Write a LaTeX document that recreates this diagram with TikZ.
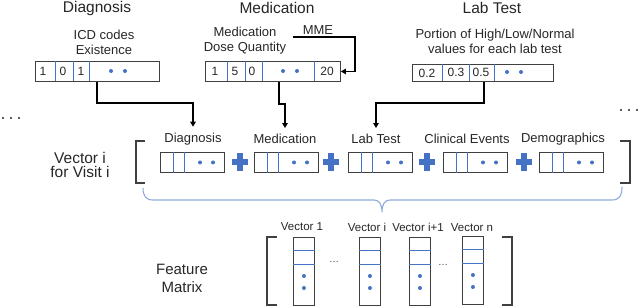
\documentclass[tikz,border=0pt]{standalone}
\usepackage{fontspec}
\setmainfont{Liberation Sans}
\usetikzlibrary{arrows.meta,calc}
\definecolor{oblue}{RGB}{68,114,196}
\definecolor{lblue}{RGB}{143,170,220}
\definecolor{ink}{RGB}{38,38,38}
\definecolor{boxc}{RGB}{64,64,64}
\newcommand\fsz[1]{\fontsize{#1}{#1}\selectfont}
\tikzset{
  x=1pt,y=-1pt,
  txt/.style={inner sep=0pt,text=ink,align=center},
  ttl/.style={txt,font=\fsz{15.5}},
  sub/.style={txt,font=\fontsize{13}{15}\selectfont},
  vlabel/.style={txt,font=\fsz{13}},
  digit/.style={txt,font=\fsz{12}},
  small/.style={txt,font=\fsz{11.5}},
  cellbox/.style={draw=boxc,line width=0.9pt,rectangle,inner sep=0pt,anchor=north west},
  divl/.style={draw=oblue,line width=0.8pt},
  bdot/.style={fill=oblue,draw=none},
  conn/.style={draw=black,line width=1.7pt,-{Triangle[length=5pt,width=5.5pt]}},
  brk/.style={draw=boxc,line width=1.1pt},
}
\newcommand\featbox[2]{% name, left x
  \node[cellbox,minimum width=64pt,minimum height=20pt] (#1) at (#2,152) {};
  \draw[divl] ([xshift=13pt]#1.north west) -- ([xshift=13pt]#1.south west);
  \draw[divl] ([xshift=24pt]#1.north west) -- ([xshift=24pt]#1.south west);
  \fill[bdot] ([xshift=40pt]#1.west) circle (2pt);
  \fill[bdot] ([xshift=53pt]#1.west) circle (2pt);
}
\newcommand\plussign[2]{% name, center x
  \coordinate (#1) at (#2,162);
  \fill[oblue] ([shift={(-8,-3)}]#1) rectangle ([shift={(8,3)}]#1);
  \fill[oblue] ([shift={(-3,-9)}]#1) rectangle ([shift={(3,9)}]#1);
}
\newcommand\colvec[3]{% name, left x, top y
  \node[cellbox,minimum width=21pt,minimum height=68pt] (#1) at (#2,#3) {};
  \draw[divl] (#1.north west |- 0,{#3+13}) -- (#1.north east |- 0,{#3+13});
  \draw[divl] (#1.north west |- 0,{#3+27}) -- (#1.north east |- 0,{#3+27});
  \fill[bdot] (#1.north |- 0,{#3+39}) circle (2pt);
  \fill[bdot] (#1.north |- 0,{#3+51}) circle (2pt);
}
\begin{document}
\begin{tikzpicture}
\useasboundingbox (0,0) rectangle (640,306);

% ---- top titles
\node[ttl] (tdiag) at (97,8) {Diagnosis};
\node[ttl] (tmed) at (277,8) {Medication};
\node[ttl] (tlab) at (492,8) {Lab Test};

\node[sub] (sdiag) at (104,42) {ICD codes\\Existence};
\node[sub] (smed) at (245,41) {Medication\\Dose Quantity};
\node[sub] (slab) at (495,41) {Portion of High/Low/Normal\\values for each lab test};
\node[txt,font=\fsz{13}] (mme) at (318,30) {MME};

% ---- top boxes
\node[cellbox,minimum width=124pt,minimum height=20pt] (bdiag) at (35,61) {};
\foreach \d in {55,73,89} \draw[divl] (\d,61) -- (\d,81);
\node[digit] at (43,71.5) {1};
\node[digit] at (63,71.5) {0};
\node[digit] at (81,71.5) {1};
\fill[bdot] (111,71) circle (2pt);
\fill[bdot] (125,71) circle (2pt);

\node[cellbox,minimum width=135pt,minimum height=20pt] (bmed) at (205,61) {};
\foreach \d in {227,245,262,314} \draw[divl] (\d,61) -- (\d,81);
\node[digit] at (215,71.5) {1};
\node[digit] at (235,71.5) {5};
\node[digit] at (252,71.5) {0};
\node[digit] at (327,71.5) {20};
\fill[bdot] (283,71) circle (2pt);
\fill[bdot] (297,71) circle (2pt);

\node[cellbox,minimum width=141pt,minimum height=17pt] (blab) at (412,64) {};
\foreach \d in {442,469,494} \draw[divl] (\d,64) -- (\d,81);
\node[digit] at (427,73) {0.2};
\node[digit] at (456,72.5) {0.3};
\node[digit] at (481,72.5) {0.5};
\fill[bdot] (507,72) circle (2pt);
\fill[bdot] (521,72) circle (2pt);

% ---- vector row
\node[vlabel] (ldiag) at (193,139) {Diagnosis};
\node[vlabel] (lmed) at (285,139) {Medication};
\node[vlabel] (llab) at (376,139) {Lab Test};
\node[vlabel] (lclin) at (467,139) {Clinical Events};
\node[vlabel] (ldemo) at (563,139) {Demographics};

\featbox{vdiag}{160}
\featbox{vmed}{254}
\featbox{vlb}{348}
\featbox{vclin}{443}
\featbox{vdemo}{539}
\plussign{p1}{240}
\plussign{p2}{331}
\plussign{p3}{427}
\plussign{p4}{524}

\node[ttl] (vi) at (80,165) {Vector i\\[-1.5pt]for Visit i};

% brackets of vector i
\draw[brk] (145,141) -- (136,141) -- (136,183) -- (145,183);
\draw[brk] (620,141) -- (630,141) -- (630,183) -- (620,183);

% ---- connectors
\coordinate (k1) at (97,103);
\coordinate (k2) at (279,104);
\coordinate (k3) at (484,103);
\draw[conn] (k1 |- bdiag.south) -- (k1) -| ([yshift=6pt]ldiag.north);
\draw[conn] (k2 |- bmed.south) -- (k2) -| ([yshift=6pt]lmed.north);
\draw[conn] (k3 |- blab.south) -- (k3) -| ([yshift=6pt]llab.north);
\coordinate (m1) at (293,37);
\coordinate (m2) at (355,37);
\draw[conn] (m1) -- (m2) |- (bmed.east);

% ---- ellipsis dots
\foreach \x in {3,11,19} \fill[ink] (\x,118) circle (1.2pt);
\foreach \x in {621,629,637} \fill[ink] (\x,110) circle (1.2pt);

% ---- brace
\draw[lblue,line width=1.1pt] (143,188) .. controls (143,196) and (146,200) .. (153,200)
  -- (374,200) .. controls (379,200) and (382,204) .. (382,212)
  .. controls (382,204) and (385,200) .. (390,200)
  -- (612,200) .. controls (619,200) and (622,196) .. (622,187);

% ---- feature matrix
\node[ttl,font=\fontsize{15}{18}\selectfont] (fm) at (182,278) {Feature\\Matrix};
\draw[brk] (277,237) -- (267,237) -- (267,305) -- (277,305);
\draw[brk] (502,237) -- (512,237) -- (512,305) -- (502,305);

\node[small] (l1) at (302,227) {Vector 1};
\node[small] (li) at (367,227) {Vector i};
\node[small] (li1) at (418,227) {Vector i+1};
\node[small] (ln) at (472,228) {Vector n};
\colvec{c1}{293}{237}
\colvec{ci}{359}{237}
\colvec{ci1}{409}{237}
\colvec{cn}{462}{236}
\node[txt,font=\fsz{10},text=boxc] (e1) at (334,262) {\dots};
\node[txt,font=\fsz{10},text=boxc] (e2) at (443,265) {\dots};
\end{tikzpicture}
\end{document}
